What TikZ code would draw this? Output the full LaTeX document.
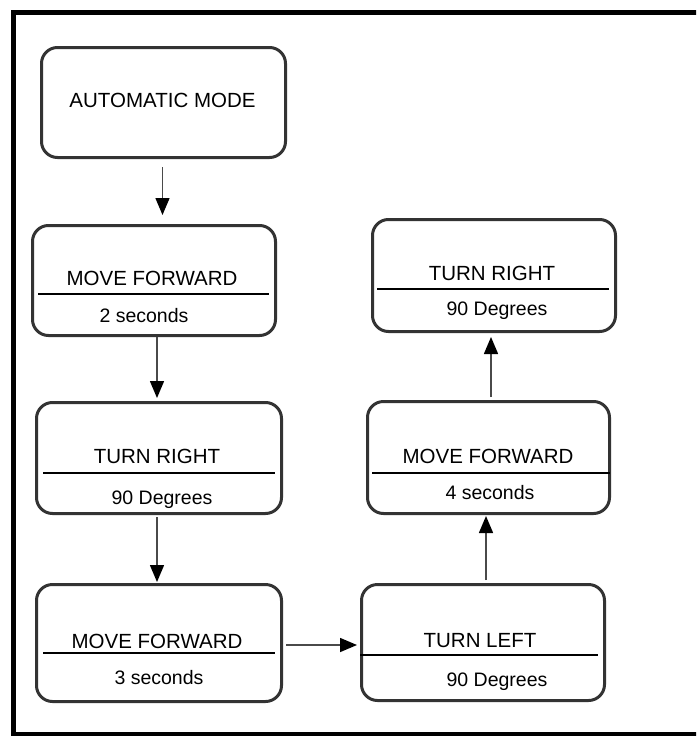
\documentclass[tikz,border=0pt]{standalone}
\usepackage{fontspec}
\setmainfont{Liberation Sans}
\usepackage{tikz}
\usetikzlibrary{arrows.meta, positioning, calc}

\definecolor{boxline}{HTML}{333333}
\definecolor{arrline}{HTML}{4A4A4A}

\begin{document}
\begin{tikzpicture}[x=1pt, y=-1pt,
  stepbox/.style={rectangle, rounded corners=16pt, draw=boxline, line width=3pt, inner sep=0pt},
  title/.style={font=\fontsize{20.5}{24}\selectfont, text=black, text height=14.7pt, text depth=0pt, inner sep=0pt},
  sub/.style={font=\fontsize{19.5}{23}\selectfont, text=black, text height=14pt, text depth=0pt, inner sep=0pt},
  divider/.style={draw=black, line width=2pt},
  arr/.style={draw=arrline, line width=1.5pt, -{Triangle[length=17pt, width=14pt, color=black, fill=black]}}]

\useasboundingbox (0,0) rectangle (696,736);
\clip (0,0) rectangle (696,736);

% --- frame ---
\draw[line width=5pt] (720,12.5) -- (13.5,12.5) -- (13.5,734) -- (720,734);

% --- Automatic mode ---
\node[stepbox, minimum width=244pt, minimum height=110pt] (auto) at (163.5,102.5) {};
\node[title] (autot) at (162.5,100) {AUTOMATIC MODE};

% --- Move forward 2 s ---
\node[stepbox, minimum width=243pt, minimum height=110pt] (fwd1) at (154,280.5) {};
\node[title] (fwd1t) at (152,278) {MOVE FORWARD};
\node[sub] (fwd1s) at (144,315) {2 seconds};
\draw[divider] (38,294) -- (269,294);

% --- Turn right 90 ---
\node[stepbox, minimum width=245pt, minimum height=111pt] (right1) at (159,458) {};
\node[title] (right1t) at (157,456) {TURN RIGHT};
\node[sub] (right1s) at (162,497) {90 Degrees};
\draw[divider] (43,473) -- (275,473);

% --- Move forward 3 s ---
\node[stepbox, minimum width=245pt, minimum height=117pt] (fwd2) at (159,643) {};
\node[title] (fwd2t) at (157,641) {MOVE FORWARD};
\node[sub] (fwd2s) at (159,677) {3 seconds};
\draw[divider] (43,653) -- (275,653);

% --- Turn left 90 ---
\node[stepbox, minimum width=243pt, minimum height=116pt] (left) at (483,642.5) {};
\node[title] (leftt) at (480,640) {TURN LEFT};
\node[sub] (lefts) at (497,679) {90 Degrees};
\draw[divider] (360,655) -- (598,655);

% --- Move forward 4 s ---
\node[stepbox, minimum width=242pt, minimum height=112pt] (fwd3) at (488.5,457.5) {};
\node[title] (fwd3t) at (488,456) {MOVE FORWARD};
\node[sub] (fwd3s) at (490,492) {4 seconds};
\draw[divider] (372,473) -- (610,473);

% --- Turn right 90 (end) ---
\node[stepbox, minimum width=243pt, minimum height=112pt] (right2) at (494,275.5) {};
\node[title] (right2t) at (492,273) {TURN RIGHT};
\node[sub] (right2s) at (497,308) {90 Degrees};
\draw[divider] (377,289) -- (609,289);

% --- arrows ---
\draw[arr, shorten <=8pt, shorten >=9pt] ([xshift=-1pt]auto.south) -- ([xshift=-1pt]auto.south |- fwd1.north);
\draw[arr, shorten <=0pt, shorten >=3pt] ([xshift=3pt]fwd1.south) -- ([xshift=3pt]fwd1.south |- right1.north);
\draw[arr, shorten <=2pt, shorten >=1pt] ([xshift=-2pt]right1.south) -- ([xshift=-2pt]right1.south |- fwd2.north);
\draw[arr, shorten <=3pt, shorten >=3pt] ([yshift=-2pt]fwd2.east) -- ([yshift=-2pt]fwd2.east -| left.west);
\draw[arr, shorten <=3pt, shorten >=1pt] ([xshift=3pt]left.north) -- ([xshift=3pt]left.north |- fwd3.south);
\draw[arr, shorten <=3pt, shorten >=4pt] ([xshift=2.5pt]fwd3.north) -- ([xshift=2.5pt]fwd3.north |- right2.south);

\end{tikzpicture}
\end{document}
